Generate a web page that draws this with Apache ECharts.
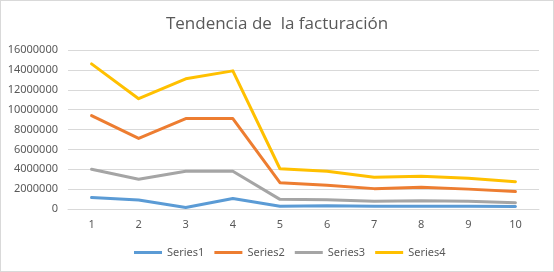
<!DOCTYPE html>
<html>
<head>
<meta charset="utf-8">
<script src="https://cdn.jsdelivr.net/npm/echarts@6/dist/echarts.min.js"></script>
<style>
  html, body { margin: 0; padding: 0; background: #fff; }
  #chart { width: 554px; height: 272px; box-sizing: border-box; border: 1px solid #d9d9d9; }
</style>
</head>
<body>
<div id="chart"></div>
<script>
  // datos
  var categories = ['1', '2', '3', '4', '5', '6', '7', '8', '9', '10']
  var series1 = [1160000, 900000, 150000, 1060000, 270000, 330000, 270000, 280000, 270000, 260000]
  var series2 = [9400000, 7100000, 9100000, 9100000, 2650000, 2400000, 2050000, 2200000, 2000000, 1750000]
  var series3 = [4000000, 3000000, 3800000, 3800000, 970000, 930000, 770000, 830000, 770000, 630000]
  var series4 = [14600000, 11100000, 13100000, 13900000, 4050000, 3800000, 3200000, 3300000, 3100000, 2750000]
  var seriesNames = ['Series1', 'Series2', 'Series3', 'Series4']
  var myColor = ['#5B9BD5', '#ED7D31', '#A5A5A5', '#FFC000']

  var myChart = echarts.init(document.getElementById('chart'))
  var lines = [series1, series2, series3, series4].map(function (d, i) {
    return {
      name: seriesNames[i],
      type: 'line',
      data: d,
      showSymbol: false,
      symbol: 'none',
      lineStyle: { width: 3, color: myColor[i], cap: 'round', join: 'round' },
      itemStyle: { color: myColor[i] }
    }
  })
  myChart.setOption({
    animation: false,
    title: {
      text: 'Tendencia de  la facturación',
      left: 'center',
      top: 10,
      textStyle: {
        color: '#595959',
        fontSize: 17,
        fontWeight: 'normal',
        fontFamily: 'Open Sans'
      }
    },
    grid: {
      left: 67,
      right: 14,
      top: 49,
      bottom: 62
    },
    legend: {
      bottom: 8,
      left: 128,
      icon: 'rect',
      itemWidth: 28,
      itemHeight: 3,
      itemGap: 10,
      textStyle: { color: '#595959', fontSize: 11, fontFamily: 'Noto Sans' },
      data: seriesNames
    },
    xAxis: {
      type: 'category',
      data: categories,
      boundaryGap: true,
      axisTick: { show: false },
      axisLine: { lineStyle: { color: '#d9d9d9', width: 1 } },
      axisLabel: { color: '#595959', fontSize: 11, margin: 10, fontFamily: 'Noto Sans' }
    },
    yAxis: {
      type: 'value',
      min: 0,
      max: 16000000,
      interval: 2000000,
      axisLine: { show: false },
      axisTick: { show: false },
      axisLabel: {
        color: '#595959',
        fontSize: 11,
        margin: 10,
        fontFamily: 'Noto Sans',
        formatter: function (v) { return String(v) }
      },
      splitLine: { lineStyle: { color: '#d9d9d9', width: 1 } }
    },
    series: lines
  })
</script>
</body>
</html>
